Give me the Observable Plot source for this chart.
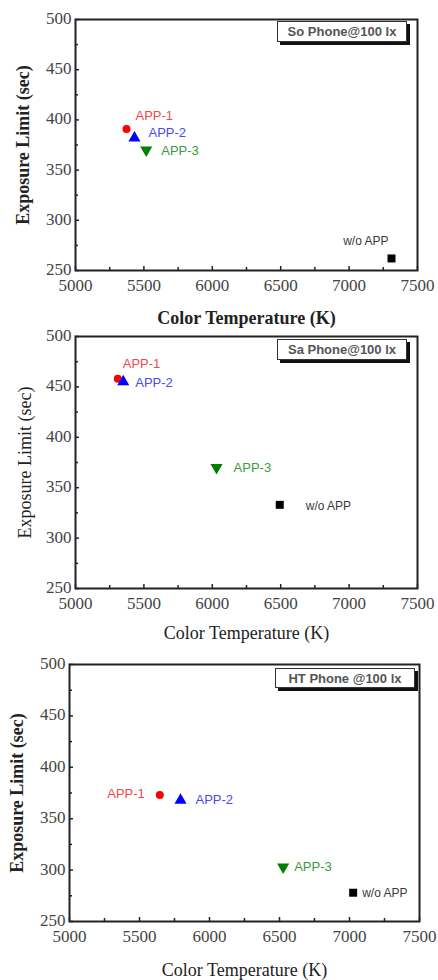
<!DOCTYPE html>
<html>
<head>
<meta charset="utf-8">
<script src="https://cdn.jsdelivr.net/npm/d3@7"></script>
<script src="https://cdn.jsdelivr.net/npm/@observablehq/plot@0.6"></script>
<style>
  html, body { margin: 0; padding: 0; background: #fff; }
  #root { position: relative; width: 438px; height: 980px; overflow: hidden; }
  .panel { position: absolute; left: 0; }
  .legend {
    position: absolute; box-sizing: border-box; background: #fff;
    border: 1px solid #333; box-shadow: 3px 3px 0 #111;
    font: bold 13px "Liberation Sans", Arial, sans-serif; color: #555;
    display: flex; align-items: center; justify-content: center; white-space: nowrap;
  }
</style>
</head>
<body>
<div id="root"></div>
<script>
// ---- data ----
const panelTitles = ["So Phone@100 lx", "Sa Phone@100 lx", "HT Phone @100 lx"];
const seriesNames = ["APP-1", "APP-2", "APP-3", "w/o APP"];
const soPhoneTemp = [5373, 5431, 5517, 7310];
const soPhoneLimit = [391, 382, 370, 262];
const saPhoneTemp = [5309, 5349, 6031, 6493];
const saPhoneLimit = [458, 455, 370, 333];
const htPhoneTemp = [5645, 5793, 6526, 7026];
const htPhoneLimit = [373, 368, 303, 278];
const xTicks = [5000, 5500, 6000, 6500, 7000, 7500];
const xMinorTicks = [5250, 5750, 6250, 6750, 7250];
const yTicks = [250, 300, 350, 400, 450, 500];
const yMinorTicks = [275, 325, 375, 425, 475];
const xLabel = "Color Temperature (K)";
const yLabel = "Exposure Limit (sec)";

// ---- styles ----
const markerFill = ["#ff0000", "#0000ff", "#008000", "#000000"];
const labelFill = ["#f04848", "#4a4aee", "#3d9a3d", "#3a3a3a"];
const triangleDown = {
  draw(ctx, size) {
    const y = Math.sqrt(size / (Math.sqrt(3) * 3));
    ctx.moveTo(0, 2 * y);
    ctx.lineTo(-Math.sqrt(3) * y, -y);
    ctx.lineTo(Math.sqrt(3) * y, -y);
    ctx.closePath();
  }
};
const markerSymbol = ["circle", "triangle", triangleDown, "square"];
const markerR = [4, 4.5, 4.5, 4.5];

// ---- layout per panel ----
const layouts = [
  { top: 0, height: 325, mt: 19, mb: 55, ml: 75, mr: 21, xLabDy: 48, yLabDx: -52,
    xBold: true, yBold: true,
    lab: [[9, -13, "start"], [14, -5, "start"], [15, 1, "start"], [-3, -17, "end"]],
    legend: [277, 21, 130, 21] },
  { top: 325, height: 320, mt: 11, mb: 57, ml: 75, mr: 21, xLabDy: 45, yLabDx: -50,
    xBold: false, yBold: false,
    lab: [[5, -15, "start"], [12, 1, "start"], [17, 0, "start"], [26, 1, "start"]],
    legend: [277, 339, 130, 21] },
  { top: 645, height: 335, mt: 19, mb: 59, ml: 69, mr: 19, xLabDy: 49, yLabDx: -52,
    xBold: false, yBold: true,
    lab: [[-15, -1, "end"], [15, 0, "start"], [11, 0, "start"], [9, 0, "start"]],
    legend: [275, 668, 140, 20] }
];
const panelX = [soPhoneTemp, saPhoneTemp, htPhoneTemp];
const panelY = [soPhoneLimit, saPhoneLimit, htPhoneLimit];

const root = document.getElementById("root");
layouts.forEach((L, p) => {
  const rows = seriesNames.map((name, i) => ({ name, temp: panelX[p][i], limit: panelY[p][i] }));
  const innerH = L.height - L.mt - L.mb;
  const innerW = 438 - L.ml - L.mr;
  const marks = [
    Plot.axisX(xTicks, { tickSize: 0, tickPadding: 8, tickFormat: d3.format("d"), fontSize: 17, fontFamily: "Liberation Serif", fill: "#444", label: null }),
    Plot.axisY(yTicks, { tickSize: 0, tickPadding: 4, tickFormat: d3.format("d"), fontSize: 17, fontFamily: "Liberation Serif", fill: "#444", label: null, dy: -1 }),
    Plot.tickX(xTicks, { x: d => d, insetTop: innerH - 4, stroke: "#222", strokeWidth: 1.5 }),
    Plot.tickX(xMinorTicks, { x: d => d, insetTop: innerH - 3, stroke: "#222", strokeWidth: 1.5 }),
    Plot.tickY(yTicks, { y: d => d, insetRight: innerW - 4, stroke: "#222", strokeWidth: 1.5 }),
    Plot.tickY(yMinorTicks, { y: d => d, insetRight: innerW - 3, stroke: "#222", strokeWidth: 1.5 }),
    Plot.frame({ stroke: "#222", strokeWidth: 2 }),
    Plot.text([xLabel], { text: d => d, frameAnchor: "bottom", dy: L.xLabDy, textAnchor: "middle", lineAnchor: "middle",
      fontFamily: "Liberation Serif", fontSize: 18, fontWeight: L.xBold ? "bold" : "normal", fill: "#222" }),
    Plot.text([yLabel], { text: d => d, frameAnchor: "left", dx: L.yLabDx, rotate: -90, textAnchor: "middle", lineAnchor: "middle",
      fontFamily: "Liberation Serif", fontSize: 18, fontWeight: L.yBold ? "bold" : "normal", fill: "#222" })
  ];
  rows.forEach((r, i) => {
    marks.push(Plot.dot([r], { x: "temp", y: "limit", symbol: markerSymbol[i], r: markerR[i], fill: markerFill[i], stroke: "none" }));
    const [dx, dy, anchor] = L.lab[i];
    marks.push(Plot.text([r], { x: "temp", y: "limit", text: "name", dx, dy, textAnchor: anchor, lineAnchor: "middle",
      fontFamily: "Liberation Sans", fontSize: i === 3 ? 12 : 13, fill: labelFill[i] }));
  });
  const svg = Plot.plot({
    width: 438, height: L.height,
    marginTop: L.mt, marginBottom: L.mb, marginLeft: L.ml, marginRight: L.mr,
    x: { domain: [5000, 7500], axis: null },
    y: { domain: [250, 500], axis: null },
    style: { background: "transparent", overflow: "visible" },
    marks
  });
  svg.classList.add("panel");
  svg.style.top = L.top + "px";
  root.appendChild(svg);
  const lg = document.createElement("div");
  lg.className = "legend";
  const [lx, ly, lw, lh] = L.legend;
  Object.assign(lg.style, { left: lx + "px", top: ly + "px", width: lw + "px", height: lh + "px" });
  lg.textContent = panelTitles[p];
  root.appendChild(lg);
});
</script>
</body>
</html>
